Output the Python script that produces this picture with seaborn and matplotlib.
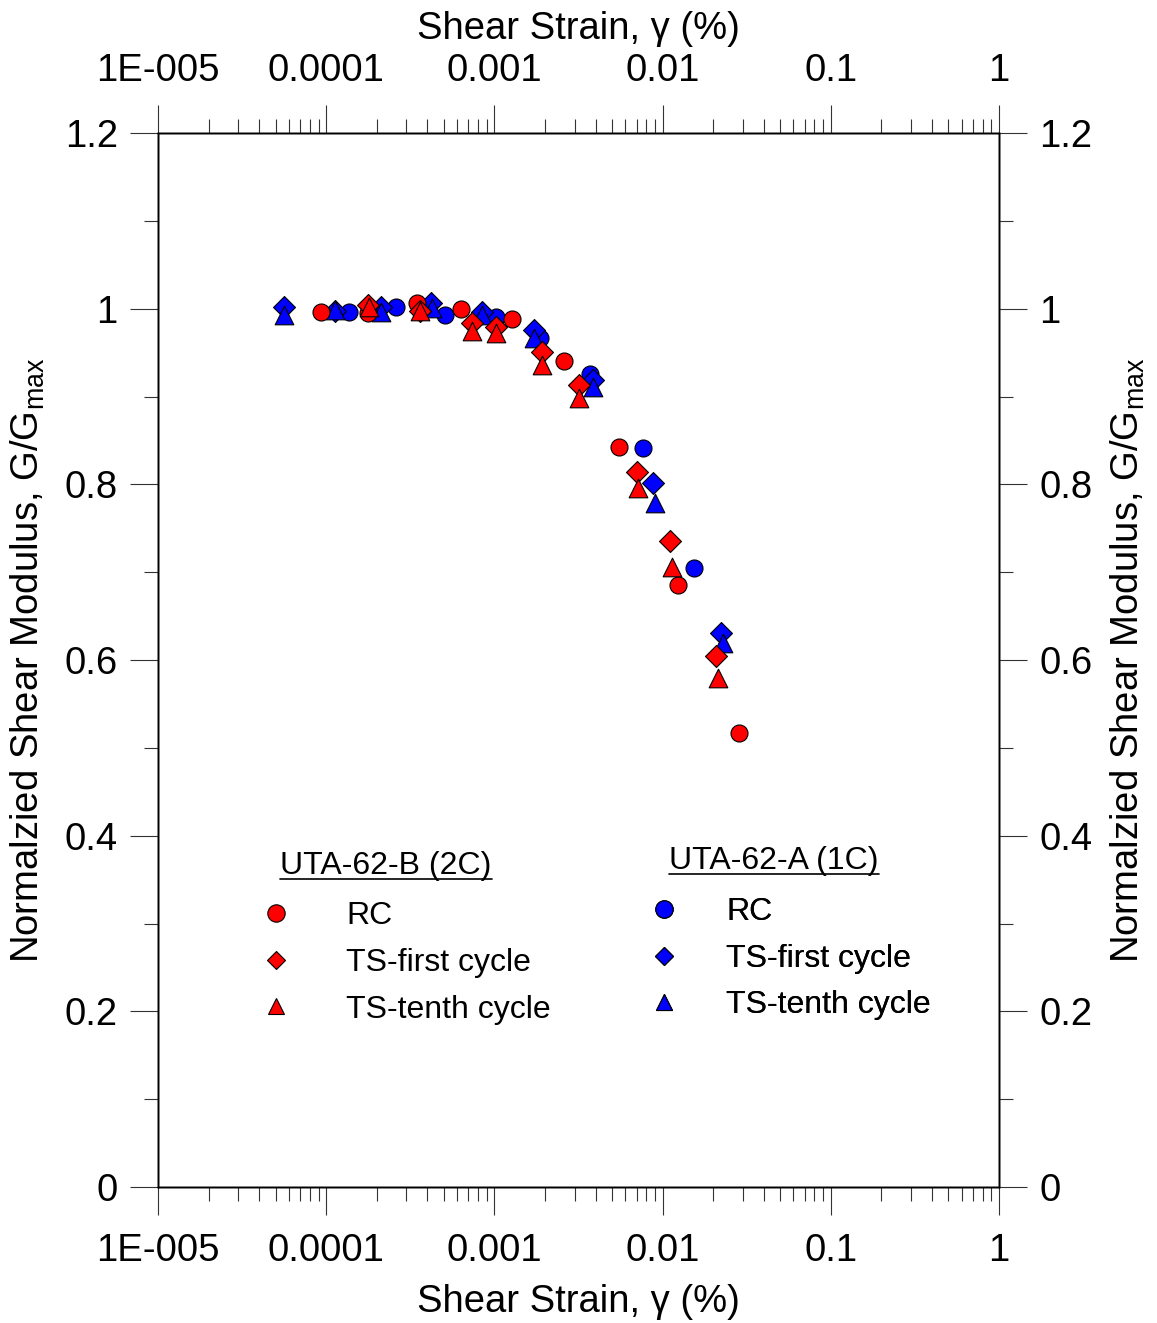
import numpy as np
import pandas as pd
import matplotlib
matplotlib.use("Agg")
import matplotlib.pyplot as plt
import seaborn as sns
from matplotlib.lines import Line2D
from matplotlib.ticker import FixedLocator, NullFormatter, FixedFormatter

# UTA-62-B (2C) -- red
b_rc_x = [9.3e-5, 1.77e-4, 3.47e-4, 6.3e-4, 1.27e-3, 2.6e-3, 5.5e-3, 0.01236, 0.0284]
b_rc_y = [0.996, 0.995, 1.006, 1.000, 0.988, 0.940, 0.843, 0.685, 0.517]
b_ts1_x = [1.77e-4, 3.6e-4, 7.36e-4, 1.02e-3, 1.92e-3, 3.18e-3, 7.05e-3, 0.01107, 0.0207]
b_ts1_y = [1.004, 0.997, 0.984, 0.979, 0.951, 0.913, 0.814, 0.736, 0.605]
b_ts10_x = [1.8e-4, 3.6e-4, 7.36e-4, 1.02e-3, 1.92e-3, 3.18e-3, 7.1e-3, 0.0114, 0.0214]
b_ts10_y = [1.002, 0.997, 0.975, 0.972, 0.936, 0.898, 0.796, 0.706, 0.580]

# UTA-62-A (1C) -- blue
a_rc_x = [1.37e-4, 2.6e-4, 5.08e-4, 1.02e-3, 1.87e-3, 3.7e-3, 7.63e-3, 0.0154]
a_rc_y = [0.996, 1.002, 0.993, 0.990, 0.967, 0.926, 0.841, 0.705]
a_ts1_x = [5.6e-5, 1.13e-4, 2.12e-4, 4.2e-4, 8.4e-4, 1.72e-3, 3.85e-3, 8.77e-3, 0.0222]
a_ts1_y = [1.002, 0.997, 1.002, 1.006, 0.996, 0.976, 0.919, 0.801, 0.631]
a_ts10_x = [5.6e-5, 1.13e-4, 2.12e-4, 4.25e-4, 8.4e-4, 1.72e-3, 3.85e-3, 9.0e-3, 0.0229]
a_ts10_y = [0.993, 0.998, 0.996, 1.001, 0.993, 0.967, 0.911, 0.779, 0.619]

x_tick_vals = [1e-5, 1e-4, 1e-3, 1e-2, 1e-1, 1]
x_tick_labels = ["1E-005", "0.0001", "0.001", "0.01", "0.1", "1"]
y_tick_vals = [0, 0.2, 0.4, 0.6, 0.8, 1.0, 1.2]
y_tick_labels = ["0", "0.2", "0.4", "0.6", "0.8", "1", "1.2"]

tests = ["RC", "TS-first cycle", "TS-tenth cycle"]
markers = {"RC": "o", "TS-first cycle": "D", "TS-tenth cycle": "^"}
sizes = {"RC": 150, "TS-first cycle": 125, "TS-tenth cycle": 180}
colors = {"UTA-62-A (1C)": "#0000ff", "UTA-62-B (2C)": "#ff0000"}

rows = []
series = {
    ("UTA-62-A (1C)", "RC"): (a_rc_x, a_rc_y),
    ("UTA-62-A (1C)", "TS-first cycle"): (a_ts1_x, a_ts1_y),
    ("UTA-62-A (1C)", "TS-tenth cycle"): (a_ts10_x, a_ts10_y),
    ("UTA-62-B (2C)", "RC"): (b_rc_x, b_rc_y),
    ("UTA-62-B (2C)", "TS-first cycle"): (b_ts1_x, b_ts1_y),
    ("UTA-62-B (2C)", "TS-tenth cycle"): (b_ts10_x, b_ts10_y),
}
for (spec, test), (xs, ys) in series.items():
    for xv, yv in zip(xs, ys):
        rows.append({"specimen": spec, "test": test, "strain": xv, "ratio": yv})
df = pd.DataFrame(rows)

sns.set_theme(style="white")
plt.rcParams["font.family"] = ["Liberation Sans", "DejaVu Sans"]
plt.rcParams["mathtext.fontset"] = "custom"
plt.rcParams["mathtext.rm"] = "Liberation Sans"
plt.rcParams["mathtext.it"] = "Liberation Sans:italic"
plt.rcParams["text.color"] = "black"
plt.rcParams["axes.labelcolor"] = "black"
plt.rcParams["xtick.color"] = "black"
plt.rcParams["ytick.color"] = "black"

fig = plt.figure(figsize=(11.57, 13.23), dpi=100)
ax = fig.add_axes([158 / 1157, 1 - 1187 / 1323, 841 / 1157, 1054 / 1323])

for spec in ["UTA-62-A (1C)", "UTA-62-B (2C)"]:
    for test in tests:
        sub = df[(df.specimen == spec) & (df.test == test)]
        sns.scatterplot(data=sub, x="strain", y="ratio", ax=ax, color=colors[spec],
                        marker=markers[test], s=sizes[test], edgecolor="black",
                        linewidth=0.8, legend=False, zorder=3)

ax.set_xscale("log")
ax.set_xlim(1e-5, 1)
ax.set_ylim(0, 1.2)

minor_x = [m * 10.0 ** k for k in range(-5, 0) for m in range(2, 10)]
minor_y = [0.1, 0.3, 0.5, 0.7, 0.9, 1.1]

tick_font = 27.5
label_font = 27.5

axT = ax.twiny()
axR = ax.twinx()
axT.set_xscale("log")
axT.set_xlim(ax.get_xlim())
axR.set_ylim(ax.get_ylim())

for a in (ax, axT):
    a.xaxis.set_major_locator(FixedLocator(x_tick_vals))
    a.xaxis.set_major_formatter(FixedFormatter(x_tick_labels))
    a.xaxis.set_minor_locator(FixedLocator(minor_x))
    a.xaxis.set_minor_formatter(NullFormatter())
for a in (ax, axR):
    a.yaxis.set_major_locator(FixedLocator(y_tick_vals))
    a.yaxis.set_major_formatter(FixedFormatter(y_tick_labels))
    a.yaxis.set_minor_locator(FixedLocator(minor_y))
    a.yaxis.set_minor_formatter(NullFormatter())

tick_col = "#333333"
ax.tick_params(axis="x", which="major", direction="out", length=20, width=0.8,
               color=tick_col, labelsize=tick_font, pad=13, bottom=True, top=False)
ax.tick_params(axis="x", which="minor", direction="out", length=10, width=0.8,
               color=tick_col, bottom=True, top=False)
ax.tick_params(axis="y", which="major", direction="out", length=20, width=0.8,
               color=tick_col, labelsize=tick_font, pad=9, left=True, right=False)
ax.tick_params(axis="y", which="minor", direction="out", length=10, width=0.8,
               color=tick_col, left=True, right=False)
axT.tick_params(axis="x", which="major", direction="out", length=20, width=0.8,
                color=tick_col, labelsize=tick_font, pad=12, top=True)
axT.tick_params(axis="x", which="minor", direction="out", length=10, width=0.8,
                color=tick_col, top=True)
axR.tick_params(axis="y", which="major", direction="out", length=20, width=0.8,
                color=tick_col, labelsize=tick_font, pad=9, right=True)
axR.tick_params(axis="y", which="minor", direction="out", length=10, width=0.8,
                color=tick_col, right=True)

for a in (ax, axT, axR):
    for sp in a.spines.values():
        sp.set_color("black")
        sp.set_linewidth(1.0)

xlabel = "Shear Strain, γ (%)"
ylabel = "Normalzied Shear Modulus, G/G$_{\\mathrm{max}}$"
ax.set_xlabel(xlabel, fontsize=label_font, labelpad=11)
axT.set_xlabel(xlabel, fontsize=label_font, labelpad=10)
ax.set_ylabel(ylabel, fontsize=label_font, labelpad=13)
axR.set_ylabel(ylabel, fontsize=label_font, labelpad=12)

# two legend blocks, one per specimen
leg_font = 23


def specimen_legend(spec, anchor, textpad):
    handles = []
    for test in tests:
        ms = {"RC": 12.5, "TS-first cycle": 9.5, "TS-tenth cycle": 11.5}[test]
        handles.append(Line2D([], [], linestyle="none", marker=markers[test],
                              markersize=ms, markerfacecolor=colors[spec],
                              markeredgecolor="black", markeredgewidth=0.8,
                              label=test))
    leg = axR.legend(handles=handles, loc="upper left", bbox_to_anchor=anchor,
                     frameon=False, fontsize=leg_font, borderpad=0,
                     borderaxespad=0, handletextpad=textpad, labelspacing=0.52,
                     handlelength=2.0)
    return leg


leg_b = specimen_legend("UTA-62-B (2C)", (0.102, 0.271), 1.2)
axR.add_artist(leg_b)
leg_a = specimen_legend("UTA-62-A (1C)", (0.5636, 0.275), 0.95)
axR.add_artist(leg_a)

titles = [("UTA-62-B (2C)", 386, 866), ("UTA-62-A (1C)", 774, 861)]
fig.canvas.draw()
renderer = fig.canvas.get_renderer()
for text, cx, cy in titles:
    t = fig.text(cx / 1157, 1 - cy / 1323, text, fontsize=leg_font,
                 ha="center", va="center")
    bb = t.get_window_extent(renderer)
    fig.add_artist(Line2D([bb.x0 / fig.bbox.width, bb.x1 / fig.bbox.width],
                          [(bb.y0 + 2) / fig.bbox.height] * 2,
                          color="black", linewidth=1.2))

fig.savefig("out.png", dpi=100, facecolor="white")
